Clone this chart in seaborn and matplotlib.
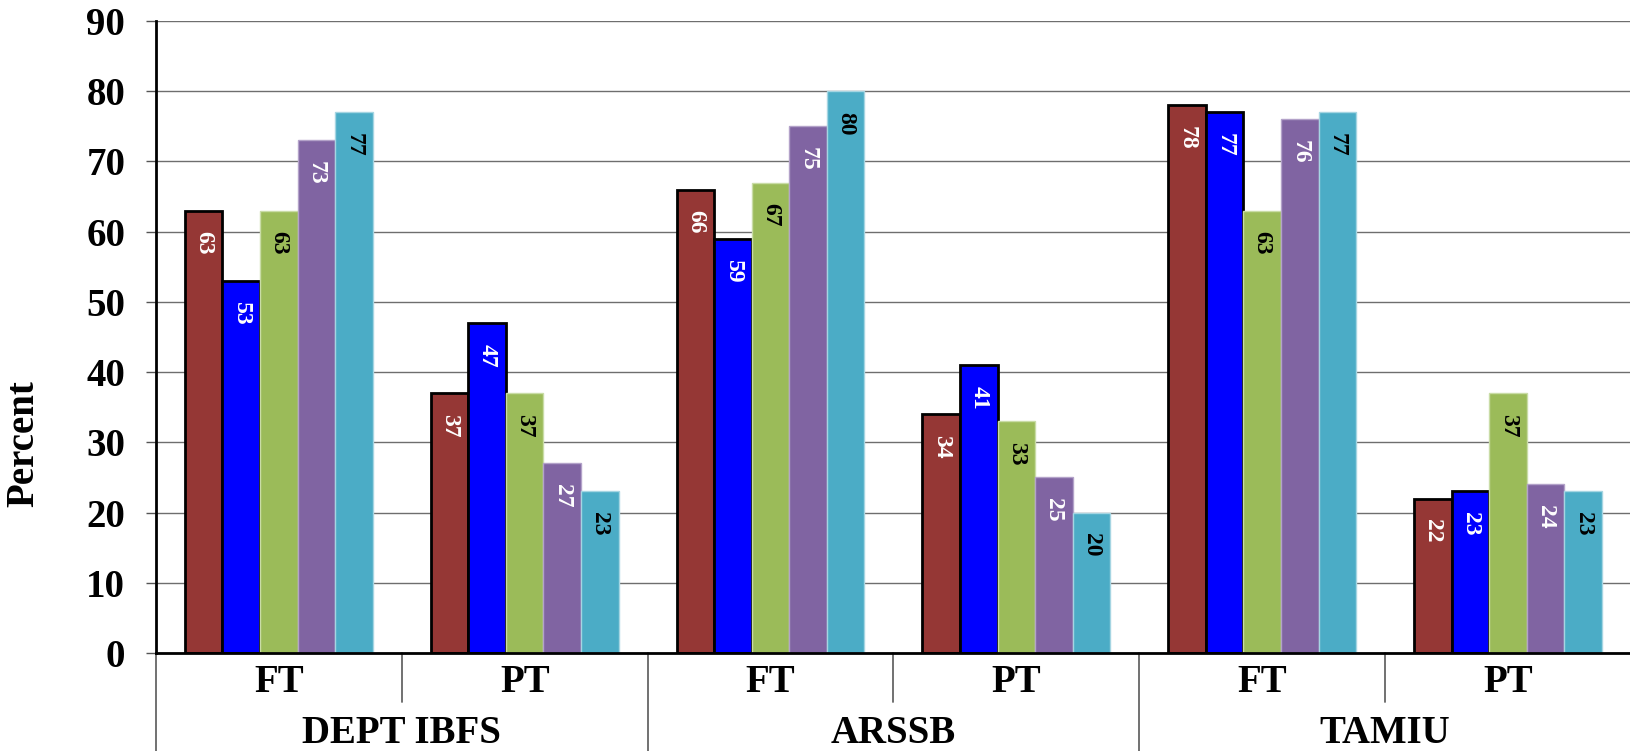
import glob
import pandas as pd
import matplotlib.pyplot as plt
from matplotlib import font_manager as fm
import seaborn as sns

# Data
institutions = ["DEPT IBFS", "ARSSB", "TAMIU"]
status = ["FT", "PT"]
series_names = ["Series 1", "Series 2", "Series 3", "Series 4", "Series 5"]

series_1 = [63, 37, 66, 34, 78, 22]
series_2 = [53, 47, 59, 41, 77, 23]
series_3 = [63, 37, 67, 33, 63, 37]
series_4 = [73, 27, 75, 25, 76, 24]
series_5 = [77, 23, 80, 20, 77, 23]

colors = ["#953735", "#0000FF", "#9BBB59", "#8064A2", "#4BACC6"]
edge_colors = ["black", "black", "#c9dca6", "#b3a2c9", "#a5d5e2"]
edge_widths = [2.0, 2.0, 1.0, 1.0, 1.0]
label_colors = ["white", "white", "black", "white", "black"]

groups = [f"{inst} {st}" for inst in institutions for st in status]
rows = []
for name, vals in zip(series_names, [series_1, series_2, series_3, series_4, series_5]):
    for g, v in zip(groups, vals):
        rows.append({"group": g, "series": name, "percent": v})
df = pd.DataFrame(rows)

sns.set_theme(style="white")

# register any Times-like serif font files that can be found on disk
font_name = "DejaVu Serif"
for pattern in ["/usr/**/LiberationSerif*.ttf", "/usr/**/Tinos*.ttf",
                "/usr/**/[Tt]imes*.tt[fc]", "/opt/**/LiberationSerif*.ttf"]:
    found = glob.glob(pattern, recursive=True)
    for path in found:
        try:
            fm.fontManager.addfont(path)
        except Exception:
            pass
    if found:
        font_name = fm.FontProperties(fname=found[0]).get_name()
        break

plt.rcParams["font.family"] = [font_name, "DejaVu Serif"]
plt.rcParams["font.weight"] = "bold"
plt.rcParams["text.color"] = "black"
plt.rcParams["xtick.color"] = "black"
plt.rcParams["ytick.color"] = "black"
plt.rcParams["axes.labelcolor"] = "black"

fig = plt.figure(figsize=(16.31, 7.51), dpi=100)
ax = fig.add_axes([0.0956, 0.1305, 0.9044, 0.8415])

sns.barplot(data=df, x="group", y="percent", hue="series", order=groups,
            hue_order=series_names, palette=colors, saturation=1,
            width=0.764, gap=0, legend=False, ax=ax, zorder=2)

# Bar edges and rotated value labels
for i, cont in enumerate(ax.containers):
    for bar in cont:
        bar.set_edgecolor(edge_colors[i])
        bar.set_linewidth(edge_widths[i])
        h = bar.get_height()
        ax.annotate(f"{h:.0f}", xy=(bar.get_x() + bar.get_width() / 2, h),
                    xytext=(0, -15), textcoords="offset points",
                    ha="center", va="top", rotation=270,
                    color=label_colors[i], fontsize=17, fontweight="bold",
                    zorder=4)

ax.set_ylim(0, 90)
ax.set_xlim(-0.5, len(groups) - 0.5)
ax.set_yticks(range(0, 91, 10))
ax.yaxis.grid(True, color="#6e6e6e", linewidth=1)
ax.set_axisbelow(True)

ax.tick_params(axis="y", which="major", left=True, direction="out", length=7,
               width=1, color="#555555", labelcolor="black", pad=15, labelsize=28)
ax.tick_params(axis="x", length=0, pad=8, labelsize=28, labelcolor="black")
ax.set_xticks(range(len(groups)))
ax.set_xticklabels([st for inst in institutions for st in status], fontweight="bold")
for lab in ax.get_yticklabels():
    lab.set_fontweight("bold")

ax.set_xlabel("")
ax.set_ylabel("Percent", fontsize=28, fontweight="bold", color="black")
ax.yaxis.set_label_coords(-0.0773, 0.332)

for side in ["top", "right"]:
    ax.spines[side].set_visible(False)
ax.spines["left"].set_color("black")
ax.spines["left"].set_linewidth(2)
ax.spines["bottom"].set_color("black")
ax.spines["bottom"].set_linewidth(2)

# Hierarchical category axis below the plot
for x in [0.5, 2.5, 4.5]:
    ax.axvline(x, ymin=-0.0775, ymax=0, color="#666666", linewidth=1.3, clip_on=False)
for x in [-0.5, 1.5, 3.5]:
    ax.axvline(x, ymin=-0.156, ymax=0, color="#666666", linewidth=1.3, clip_on=False)
for k, inst in enumerate(institutions):
    ax.text(2 * k + 0.5, -0.098, inst, transform=ax.get_xaxis_transform(),
            ha="center", va="top", fontsize=28, fontweight="bold", color="black")

fig.savefig("out.png", dpi=100, facecolor="white")
